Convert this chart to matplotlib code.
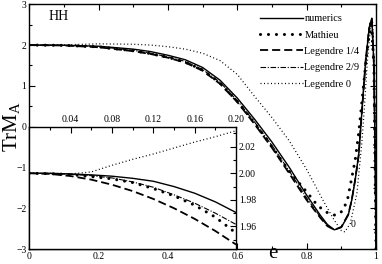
import matplotlib
matplotlib.use("Agg")
import matplotlib.pyplot as plt
from matplotlib.ticker import MultipleLocator, FormatStrFormatter

plt.rcParams['font.family'] = ['Liberation Serif', 'DejaVu Serif']

# ---- main panel data ----
e_main = [0.0, 0.1, 0.2, 0.3, 0.35, 0.4, 0.45, 0.5, 0.55, 0.6, 0.65, 0.7, 0.75, 0.8,
          0.84, 0.86, 0.88, 0.9, 0.92, 0.93, 0.94, 0.95, 0.96, 0.97, 0.98, 0.988, 0.994, 0.998, 1.0]
numerics = [2.0, 1.995, 1.972, 1.90, 1.84, 1.75, 1.64, 1.45, 1.14, 0.70, 0.18, -0.38, -1.0, -1.68,
            -2.18, -2.40, -2.53, -2.47, -2.17, -1.8, -1.3, -0.7, 0.45, 1.6, 2.4, 2.66, 1.5, -1.0, -3.0]
leg14 = [2.0, 1.99, 1.946, 1.85, 1.78, 1.69, 1.57, 1.37, 1.05, 0.60, 0.06, -0.52, -1.15, -1.8,
         -2.24, -2.44, -2.53, -2.46, -2.15, -1.8, -1.3, -0.7, 0.45, 1.6, 2.4, 2.66, 1.5, -1.0, -3.0]
leg29 = [2.0, 1.993, 1.962, 1.87, 1.80, 1.71, 1.60, 1.40, 1.09, 0.64, 0.11, -0.46, -1.09, -1.75,
         -2.22, -2.43, -2.53, -2.46, -2.16, -1.8, -1.3, -0.7, 0.45, 1.6, 2.4, 2.66, 1.5, -1.0, -3.0]

e_math = [0.0, 0.1, 0.2, 0.3, 0.35, 0.4, 0.45, 0.5, 0.55, 0.6, 0.65, 0.7, 0.75, 0.8, 0.83,
          0.853, 0.875, 0.89, 0.905, 0.918, 0.927, 0.94, 0.95, 0.956, 0.964, 0.974, 0.986, 0.994, 1.0]
mathieu = [2.0, 1.993, 1.955, 1.86, 1.79, 1.70, 1.58, 1.39, 1.07, 0.62, 0.09, -0.49, -1.1, -1.6, -1.92,
           -2.08, -2.17, -2.16, -2.05, -1.78, -1.39, -0.82, -0.16, 0.33, 1.0, 1.85, 2.6, 1.5, -3.0]

e_leg0 = [0.0, 0.1, 0.2, 0.3, 0.35, 0.4, 0.45, 0.5, 0.55, 0.6, 0.65, 0.7, 0.75, 0.8, 0.85, 0.88,
          0.9, 0.91, 0.926, 0.945, 0.959, 0.966, 0.975, 0.985, 0.99, 0.995, 1.0]
leg0 = [2.0, 2.006, 2.03, 2.02, 2.0, 1.96, 1.90, 1.80, 1.62, 1.28, 0.74, 0.22, -0.35, -1.05, -1.85, -2.3,
        -2.55, -2.58, -2.37, -1.63, -0.41, 0.41, 1.6, 2.5, 2.6, 1.5, -3.0]

# ---- inset data ----
e_in = [0.0, 0.02, 0.04, 0.06, 0.08, 0.10, 0.12, 0.14, 0.16, 0.18, 0.20]
num_in = [2.0, 2.0, 1.9995, 1.9988, 1.9978, 1.9962, 1.9940, 1.9900, 1.9850, 1.9785, 1.9705]
math_in = [2.0, 1.9997, 1.999, 1.9975, 1.9958, 1.9930, 1.9885, 1.983, 1.976, 1.967, 1.955]
leg14_in = [2.0, 1.9995, 1.9979, 1.9952, 1.9914, 1.9866, 1.9807, 1.9737, 1.9657, 1.9566, 1.9464]
leg29_in = [2.0, 1.9998, 1.9992, 1.9982, 1.9965, 1.9935, 1.9895, 1.9838, 1.9775, 1.970, 1.9615]
leg0_in = [2.0, 2.0, 1.9995, 2.001, 2.006, 2.0105, 2.0145, 2.019, 2.0235, 2.0275, 2.032]

labels = ['numerics', 'Mathieu', 'Legendre 1/4', 'Legendre 2/9', 'Legendre 0']

st_num = dict(color='black', lw=1.0, ls='-')
st_math = dict(color='black', lw=2.2, ls=(0, (0.01, 2.6)), dash_capstyle='round')
st_14 = dict(color='black', lw=1.3, ls=(0, (4.5, 2.2)))
st_29 = dict(color='black', lw=0.8, ls=(0, (5, 1.5, 1, 1.5)))
st_0 = dict(color='black', lw=0.9, ls=(0, (0.8, 2.0)))

fig = plt.figure(figsize=(3.82, 2.64), dpi=100)
ax = fig.add_axes([0.0767, 0.0568, 0.9076, 0.927])

ax.plot(e_main, numerics, label=labels[0], **st_num)
ax.plot(e_math, mathieu, label=labels[1], **st_math)
ax.plot(e_main, leg14, label=labels[2], **st_14)
ax.plot(e_main, leg29, label=labels[3], **st_29)
ax.plot(e_leg0, leg0, label=labels[4], **st_0)

ax.set_xlim(0, 1)
ax.set_ylim(-3, 3)
ax.xaxis.set_major_locator(MultipleLocator(0.2))
ax.xaxis.set_minor_locator(MultipleLocator(0.1))
ax.yaxis.set_major_locator(MultipleLocator(1))
ax.yaxis.set_minor_locator(MultipleLocator(0.5))
ax.xaxis.set_major_formatter(FormatStrFormatter('%g'))
ax.tick_params(which='both', direction='in', top=True, right=True, labelsize=7, pad=2, width=0.8)
ax.tick_params(which='major', length=4)
ax.tick_params(which='minor', length=2)
for s in ax.spines.values():
    s.set_linewidth(1.0)

ax.text(0.055, 2.69, 'HH', fontsize=10, va='center', ha='left')
ax.text(0.933, -2.41, '0', fontsize=7, va='center', ha='center')
fig.text(0.715, 0.022, 'e', fontsize=15, ha='center', va='baseline')
fig.text(0.003, 0.52, r'TrM$_\mathregular{A}$', fontsize=15, rotation=90, ha='left', va='center')

leg = ax.legend(loc='upper left', bbox_to_anchor=(0.681, 0.947), bbox_transform=fig.transFigure,
                frameon=False, fontsize=7.5, handlelength=4.1, handletextpad=0.15,
                labelspacing=0.68, borderpad=0, borderaxespad=0)

# inset
axin = fig.add_axes([0.0767, 0.0568, 0.541, 0.463])
axin.set_facecolor('white')
axin.plot(e_in, num_in, **st_num)
axin.plot(e_in, math_in, **st_math)
axin.plot(e_in, leg14_in, **st_14)
axin.plot(e_in, leg29_in, **st_29)
axin.plot(e_in, leg0_in, **st_0)
axin.set_xlim(0, 0.2)
axin.set_ylim(1.943, 2.035)
axin.xaxis.set_major_locator(MultipleLocator(0.04))
axin.xaxis.set_minor_locator(MultipleLocator(0.02))
axin.yaxis.set_major_locator(MultipleLocator(0.02))
axin.yaxis.set_minor_locator(MultipleLocator(0.01))
axin.xaxis.set_major_formatter(FormatStrFormatter('%.2f'))
axin.yaxis.set_major_formatter(FormatStrFormatter('%.2f'))
axin.xaxis.tick_top()
axin.yaxis.tick_right()
axin.tick_params(which='both', direction='in', labelsize=7, pad=2, width=0.8,
                 left=False, bottom=False, top=True, right=True,
                 labeltop=True, labelright=True, labelleft=False, labelbottom=False)
axin.tick_params(which='major', length=4)
axin.tick_params(which='minor', length=2)
axin.set_xticks([0.04, 0.08, 0.12, 0.16, 0.20])
for s in axin.spines.values():
    s.set_linewidth(1.0)

fig.savefig('out.png', dpi=100)
